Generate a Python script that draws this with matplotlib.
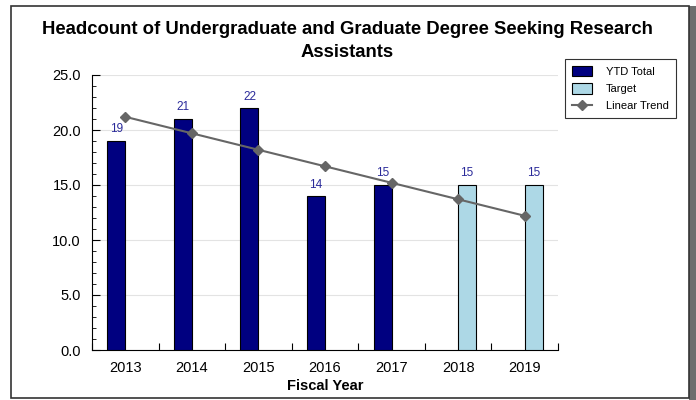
import matplotlib
matplotlib.use("Agg")
import matplotlib.pyplot as plt
from matplotlib.patches import Rectangle
from matplotlib.ticker import MultipleLocator, FixedLocator
import numpy as np

plt.rcParams['font.family'] = ['Liberation Sans', 'DejaVu Sans']

years = ["2013", "2014", "2015", "2016", "2017", "2018", "2019"]
ytd_total = [19, 21, 22, 14, 15, None, None]
target = [None, None, None, None, None, 15, 15]
trend = [21.2, 19.7, 18.2, 16.7, 15.2, 13.7, 12.2]

fig = plt.figure(figsize=(6.96, 4.0), dpi=100)

# outer frame with shadow
fig.patches.append(Rectangle((689/696, 0), 7/696, 394/400, transform=fig.transFigure,
                             facecolor="#6e6e6e", edgecolor="none", zorder=0))
fig.patches.append(Rectangle((11/696, 2/400), 678/696, 392/400, transform=fig.transFigure,
                             facecolor="white", edgecolor="#333333", linewidth=1.2, zorder=1))

ax = fig.add_axes([92/696, 50/400, 466/696, 275/400])
ax.set_zorder(2)
ax.patch.set_alpha(0)

x = np.arange(len(years))
w = 0.27
navy = "#000080"
light = "#add8e6"
lblc = "#2a2a9a"

h_ytd = h_tgt = None
for i, v in enumerate(ytd_total):
    if v is not None:
        b = ax.bar(x[i] - w/2, v, width=w, color=navy, edgecolor="black", linewidth=0.8, zorder=3,
                   label="YTD Total")
        h_ytd = h_ytd or b
        ax.text(x[i] - w/2, v + 0.5, str(v), ha="center", va="bottom", fontsize=8.5, color=lblc)
for i, v in enumerate(target):
    if v is not None:
        b = ax.bar(x[i] + w/2, v, width=w, color=light, edgecolor="black", linewidth=0.8, zorder=3,
                   label="Target")
        h_tgt = h_tgt or b
        ax.text(x[i] + w/2, v + 0.5, str(v), ha="center", va="bottom", fontsize=8.5, color=lblc)

h_line, = ax.plot(x, trend, color="#666666", linewidth=1.5, marker="D", markersize=5.5,
                  markerfacecolor="#666666", markeredgecolor="#666666", zorder=4, label="Linear Trend")

ax.set_xlim(-0.5, len(years) - 0.5)
ax.set_ylim(0, 25)
ax.yaxis.set_minor_locator(MultipleLocator(1))
ax.set_yticks(np.arange(0, 26, 5))
ax.set_yticklabels([f"{t:.1f}" for t in np.arange(0, 26, 5)])
ax.set_xticks(x)
ax.set_xticklabels(years)
ax.xaxis.set_minor_locator(FixedLocator(np.arange(-0.5, len(years), 1.0)))
ax.tick_params(axis="x", which="major", length=0, labelsize=10.5, pad=8)
ax.tick_params(axis="x", which="minor", direction="in", length=5, width=0.8)
ax.tick_params(axis="y", which="major", direction="in", length=6, labelsize=10.5, pad=8)
ax.tick_params(axis="y", which="minor", direction="in", length=3)
ax.grid(axis="y", which="major", color="#e3e3e3", linewidth=0.8, zorder=0)
ax.set_axisbelow(True)
for s in ["top", "right"]:
    ax.spines[s].set_visible(False)

ax.set_xlabel("Fiscal Year", fontsize=10.5, fontweight="bold", labelpad=3)

fig.text(347/696, 1 - 41/400, "Headcount of Undergraduate and Graduate Degree Seeking Research\nAssistants",
         ha="center", va="center", fontsize=13.3, fontweight="bold", linespacing=1.4)

leg = fig.legend([h_ytd, h_tgt, h_line], ["YTD Total", "Target", "Linear Trend"],
                 loc="upper left", bbox_to_anchor=(565/696, 1 - 59/400), fontsize=8,
                 frameon=True, fancybox=False, edgecolor="black", borderpad=0.6,
                 handlelength=1.8, handleheight=1.1, handletextpad=1.3, labelspacing=0.55,
                 borderaxespad=0)
leg.get_frame().set_linewidth(0.8)

fig.savefig("out.png", dpi=100)
